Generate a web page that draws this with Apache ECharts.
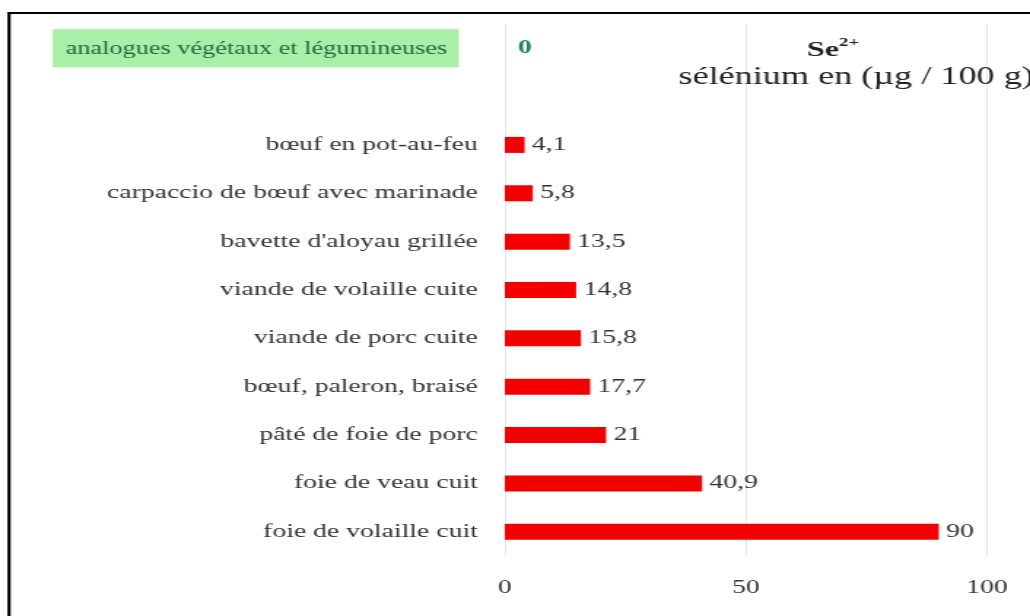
<!DOCTYPE html>
<html>
<head>
<meta charset="utf-8">
<script src="https://cdn.jsdelivr.net/npm/echarts@6/dist/echarts.min.js"></script>
<style>
    html, body { margin: 0; padding: 0; background: #fff; overflow: hidden; }
    /* l'original est étiré horizontalement : on dessine en 706 px puis on étire */
    #chart { width: 706px; height: 616px; transform: scaleX(1.459); transform-origin: 0 0; }
</style>
</head>
<body>
<div id="chart"></div>
<script>
var categories = [
    'analogues végétaux et légumineuses',
    '',
    'bœuf en pot-au-feu',
    'carpaccio de bœuf avec marinade',
    "bavette d'aloyau grillée",
    'viande de volaille cuite',
    'viande de porc cuite',
    'bœuf, paleron, braisé',
    'pâté de foie de porc',
    'foie de veau cuit',
    'foie de volaille cuit'
];
var selenium = [0, null, 4.1, 5.8, 13.5, 14.8, 15.8, 17.7, 21, 40.9, 90];
var xTicks = [0, 50, 100];

var serif = '"Liberation Serif", "DejaVu Serif", serif';

var init_chart = function () {
    var myChart = echarts.init(document.getElementById('chart'));

    var barData = selenium.map(function (v, i) {
        if (i === 0) {
            // la ligne verte en haut
            return {
                value: v,
                label: { color: '#1d8a52', fontWeight: 'bold', distance: 9 }
            };
        }
        return v;
    });

    var option = {
        animation: false,
        textStyle: { fontFamily: serif },
        title: [{
            text: '{b|Se}{s|2+}',
            left: 566,
            top: 31,
            textAlign: 'center',
            textStyle: {
                rich: {
                    b: { fontFamily: serif, fontSize: 22, fontWeight: 'bold', color: '#222', lineHeight: 28 },
                    s: { fontFamily: serif, fontSize: 13, fontWeight: 'bold', color: '#222', verticalAlign: 'top', lineHeight: 28, padding: [0, 0, 8, 0] }
                }
            }
        }, {
            text: 'sélénium en (µg / 100 g)',
            left: 460,
            top: 60,
            textStyle: { fontFamily: serif, fontSize: 24.8, fontWeight: 'normal', color: '#222' }
        }],
        graphic: [{
            type: 'rect',
            shape: { x: 6.2, y: 13, width: 800, height: 640 },
            style: { fill: 'none', stroke: '#000', lineWidth: 2.2 },
            silent: true
        }],
        grid: { left: 346, right: 29.5, top: 24, bottom: 60 },
        xAxis: {
            type: 'value',
            min: 0,
            max: 100,
            interval: 50,
            axisLine: { show: false },
            axisTick: { show: false },
            splitLine: { lineStyle: { color: '#e8e8e8' } },
            axisLabel: {
                margin: 23,
                fontFamily: serif,
                fontSize: 19,
                color: '#333',
                formatter: function (v) { return xTicks.indexOf(v) >= 0 ? String(v) : ''; }
            }
        },
        yAxis: {
            type: 'category',
            inverse: true,
            data: categories,
            axisLine: { show: false },
            axisTick: { show: false },
            axisLabel: {
                margin: 18.5,
                fontFamily: serif,
                fontSize: 19,
                color: '#333',
                formatter: function (v, i) {
                    if (i === 0) return '{g|' + v + '}{sp|}';
                    return v;
                },
                rich: {
                    g: {
                        fontFamily: serif,
                        fontSize: 18,
                        color: '#1e6b3c',
                        backgroundColor: '#a8f0a8',
                        padding: [11, 8, 9, 9]
                    },
                    sp: { width: 13 }
                }
            }
        },
        series: [{
            name: 'sélénium',
            type: 'bar',
            data: barData,
            barWidth: 16,
            itemStyle: { color: '#f50000' },
            label: {
                show: true,
                position: 'right',
                distance: 5,
                fontFamily: serif,
                fontSize: 19,
                color: '#333',
                formatter: function (p) { return String(p.value).replace('.', ','); }
            }
        }]
    };

    myChart.setOption(option);
};

init_chart();
</script>
</body>
</html>
